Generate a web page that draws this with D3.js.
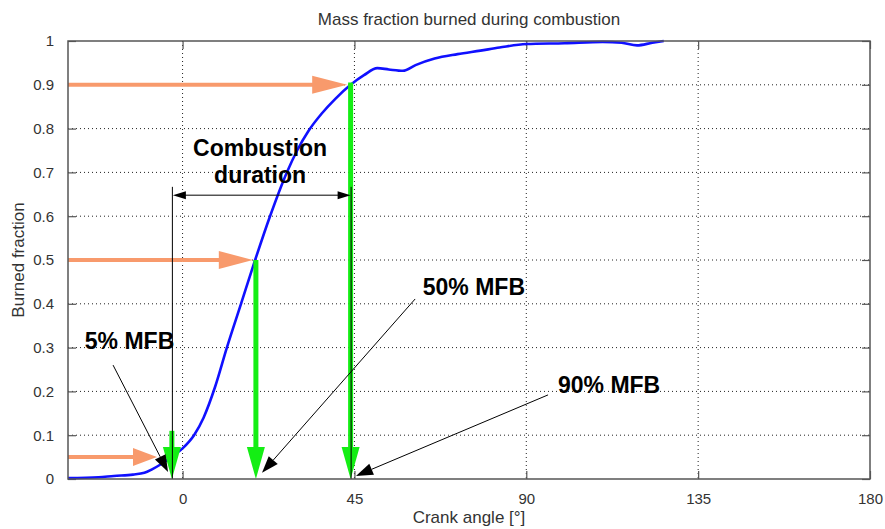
<!DOCTYPE html>
<html>
<head>
<meta charset="utf-8">
<script src="https://cdn.jsdelivr.net/npm/d3@7"></script>
<style>
  html, body { margin: 0; padding: 0; background: #fff; }
  svg { display: block; }
  text { font-family: "Liberation Sans", Arial, sans-serif; }
</style>
</head>
<body>
<svg id="chart" width="885" height="529"></svg>
<script>
// Mass fraction burned curve (crank angle in degrees, burned fraction)
const crankAngle = [-30, -22, -18, -13, -10, -8, -6, -3, 0, 3, 5.5, 8.5, 11.6, 15.3, 19, 22.9, 27.3, 30, 33, 36.5, 40, 44, 47.5, 51, 54, 57.7, 61, 66, 72, 78, 83, 90, 100, 110, 115, 119, 123, 126];
const burnedFraction = [0.002, 0.004, 0.007, 0.01, 0.014, 0.022, 0.032, 0.05, 0.07, 0.1, 0.14, 0.21, 0.3, 0.4, 0.5, 0.6, 0.7, 0.75, 0.795, 0.835, 0.868, 0.9, 0.922, 0.938, 0.935, 0.932, 0.945, 0.96, 0.97, 0.978, 0.985, 0.993, 0.995, 0.998, 0.996, 0.99, 0.996, 1.0];

// Characteristic points: 5%, 50% and 90% mass fraction burned
const mfbLevels = [0.05, 0.5, 0.9];
const mfbAngles = [-2.8, 19.2, 44];
const greenTop = [0.11, 0.5, 0.905];
const orangeTip = [-6.7, 18.4, 43.1];
const orangeHead = [24, 34, 35];

// Axis ticks
const xTicks = [0, 45, 90, 135, 180];
const yTicks = [0, 0.1, 0.2, 0.3, 0.4, 0.5, 0.6, 0.7, 0.8, 0.9, 1];

// Annotation labels and pointer arrows, in (angle, fraction)
const mfbLabels = ["5% MFB", "50% MFB", "90% MFB"];
const labelPos = [[-25.6, 0.297], [62.9, 0.42], [98.3, 0.196]];
const pointerFrom = [[-18.2, 0.26], [60.9, 0.411], [95.7, 0.192]];
const pointerTo = [[-3.8, 0.016], [20.8, 0.014], [45.4, 0.007]];
const durationLines = ["Combustion", "duration"];
const durationText = [20.3, [0.737, 0.676]];
const durationLevel = 0.648;
const durationTop = 0.667;

const svg = d3.select("#chart");
const L = 68, R = 870, T = 41, B = 479;

const x = d3.scaleLinear().domain([-30, 180]).range([L, R]);
const y = d3.scaleLinear().domain([0, 1]).range([B, T]);

// Grid (dotted)
const grid = svg.append("g");
grid.selectAll(".gx").data(xTicks.filter(d => d > -30 && d < 180)).join("line")
  .attr("x1", d => x(d)).attr("x2", d => x(d)).attr("y1", T).attr("y2", B)
  .attr("stroke", "#222").attr("stroke-width", 1).attr("stroke-dasharray", "1,3");
grid.selectAll(".gy").data(yTicks.filter(d => d > 0 && d < 1)).join("line")
  .attr("y1", d => y(d)).attr("y2", d => y(d)).attr("x1", L).attr("x2", R)
  .attr("stroke", "#222").attr("stroke-width", 1).attr("stroke-dasharray", "1,3");

// Axes with inward ticks on all four sides
const axisColor = "#555";
const styleAxis = g => {
  g.select(".domain").remove();
  g.selectAll(".tick line").attr("stroke", axisColor).attr("stroke-width", 1.2);
  g.selectAll(".tick text").attr("fill", "#333").style("font-size", "15px")
    .style("font-family", "'Liberation Sans', Arial, sans-serif");
};
svg.append("g").attr("transform", `translate(0,${B})`)
  .call(d3.axisBottom(x).tickValues(xTicks).tickFormat(d3.format("d")).tickSizeInner(-8).tickSizeOuter(0).tickPadding(14))
  .call(styleAxis);
svg.append("g").attr("transform", `translate(0,${T})`)
  .call(d3.axisTop(x).tickValues(xTicks).tickFormat("").tickSizeInner(-8).tickSizeOuter(0))
  .call(styleAxis);
svg.append("g").attr("transform", `translate(${L},0)`)
  .call(d3.axisLeft(y).tickValues(yTicks).tickFormat(d => d === 0 || d === 1 ? d3.format("d")(d) : d3.format(".1f")(d)).tickSizeInner(-8).tickSizeOuter(0).tickPadding(14))
  .call(styleAxis);
svg.append("g").attr("transform", `translate(${R},0)`)
  .call(d3.axisRight(y).tickValues(yTicks).tickFormat("").tickSizeInner(-8).tickSizeOuter(0))
  .call(styleAxis);

// Burned fraction curve
const pts = crankAngle.map((a, i) => [a, burnedFraction[i]]);
svg.append("path").datum(pts)
  .attr("d", d3.line().x(d => x(d[0])).y(d => y(d[1])).curve(d3.curveMonotoneX))
  .attr("fill", "none").attr("stroke", "#1010ff").attr("stroke-width", 2.6)
  .attr("stroke-linejoin", "round");

// Horizontal orange arrows from the y axis to each MFB level
const orange = "#f89a6c";
mfbLevels.forEach((lv, i) => {
  const yy = y(lv), tip = x(orangeTip[i]), hl = orangeHead[i];
  svg.append("line").attr("x1", L).attr("x2", tip - hl + 2).attr("y1", yy).attr("y2", yy)
    .attr("stroke", orange).attr("stroke-width", 4);
  svg.append("path")
    .attr("d", `M${tip - hl},${yy - 9}L${tip},${yy}L${tip - hl},${yy + 9}Z`)
    .attr("fill", orange);
});

// Vertical green arrows down to the crank angle axis
const green = "#14ee14";
mfbAngles.forEach((a, i) => {
  const xx = x(a), y0 = y(greenTop[i]), y1 = y(0);
  svg.append("line").attr("x1", xx).attr("x2", xx).attr("y1", y0).attr("y2", y1 - 30)
    .attr("stroke", green).attr("stroke-width", 5);
  svg.append("path")
    .attr("d", `M${xx - 9},${y1 - 32}L${xx + 9},${y1 - 32}L${xx},${y1}Z`)
    .attr("fill", green);
});

// Combustion duration: reference lines and double-headed arrow
[mfbAngles[0], mfbAngles[2]].forEach(a => {
  svg.append("line").attr("x1", x(a) + 0.5).attr("x2", x(a) + 0.5)
    .attr("y1", y(durationTop)).attr("y2", y(0))
    .attr("stroke", "#000").attr("stroke-width", 1);
});
{
  const x0 = x(mfbAngles[0]) + 1, x1 = x(mfbAngles[2]), yy = y(durationLevel);
  svg.append("line").attr("x1", x0 + 10).attr("x2", x1 - 10).attr("y1", yy).attr("y2", yy)
    .attr("stroke", "#000").attr("stroke-width", 1);
  svg.append("path").attr("d", `M${x0},${yy}L${x0 + 13},${yy - 4}L${x0 + 13},${yy + 4}Z`).attr("fill", "#000");
  svg.append("path").attr("d", `M${x1},${yy}L${x1 - 13},${yy - 4}L${x1 - 13},${yy + 4}Z`).attr("fill", "#000");
}
svg.append("text").attr("x", x(durationText[0])).attr("text-anchor", "middle")
  .style("font-size", "23px").style("font-weight", "bold").attr("fill", "#000")
  .selectAll("tspan").data(durationLines).join("tspan")
  .attr("x", x(durationText[0])).attr("y", (d, i) => y(durationText[1][i])).text(d => d);

// MFB labels with thin pointer arrows
mfbLabels.forEach((t, i) => {
  svg.append("text").attr("x", x(labelPos[i][0])).attr("y", y(labelPos[i][1]))
    .style("font-size", "23px").style("font-weight", "bold")
    .attr("fill", "#000").text(t);
  const fx = x(pointerFrom[i][0]), fy = y(pointerFrom[i][1]);
  const tx = x(pointerTo[i][0]), ty = y(pointerTo[i][1]);
  const ang = Math.atan2(ty - fy, tx - fx);
  const hl = 17, hw = 6;
  const bx = tx - hl * Math.cos(ang), by = ty - hl * Math.sin(ang);
  const px = -Math.sin(ang) * hw, py = Math.cos(ang) * hw;
  svg.append("line").attr("x1", fx).attr("y1", fy).attr("x2", bx).attr("y2", by)
    .attr("stroke", "#000").attr("stroke-width", 1);
  svg.append("path").attr("d", `M${tx},${ty}L${bx + px},${by + py}L${bx - px},${by - py}Z`).attr("fill", "#000");
});

// Plot box
svg.append("rect").attr("x", L).attr("y", T).attr("width", R - L).attr("height", B - T)
  .attr("fill", "none").attr("stroke", axisColor).attr("stroke-width", 1.5);

// Title and axis labels
svg.append("text").attr("x", (L + R) / 2).attr("y", 25).attr("text-anchor", "middle")
  .style("font-size", "17px").attr("fill", "#333").text("Mass fraction burned during combustion");
svg.append("text").attr("x", (L + R) / 2).attr("y", 523).attr("text-anchor", "middle")
  .style("font-size", "17px").attr("fill", "#333").text("Crank angle [°]");
svg.append("text").attr("transform", `translate(24,${(T + B) / 2}) rotate(-90)`).attr("text-anchor", "middle")
  .style("font-size", "17px").attr("fill", "#333").text("Burned fraction");
</script>
</body>
</html>
